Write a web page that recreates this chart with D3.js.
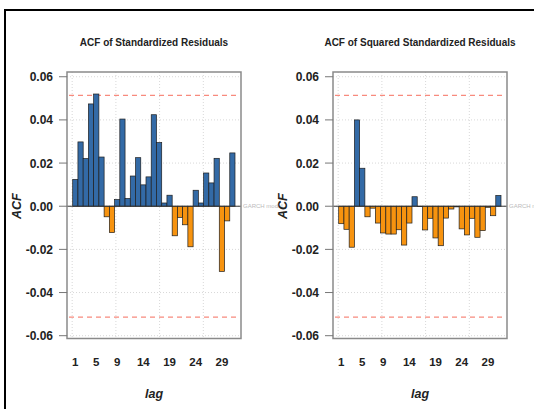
<!DOCTYPE html>
<html lang="en">
  <head>
    <meta charset="utf-8">
    <title>ACF of GARCH residuals</title>
    <script type="text/javascript" src="https://cdn.jsdelivr.net/npm/d3@7/dist/d3.min.js"></script>
    <style>
      body { margin: 0; background: #fff; }
      svg { display: block; font-family: "Liberation Sans", Arial, sans-serif; }
      .panel-title { font-size: 10px; font-weight: bold; fill: #222; }
      .tick-lab { font-size: 12px; font-weight: bold; fill: #222; }
      .x-lab { font-size: 11.5px; font-weight: bold; fill: #222; }
      .axis-title { font-size: 12.5px; font-weight: bold; font-style: italic; fill: #222; }
      .note { font-size: 6px; fill: #bbb; }
    </style>
  </head>
  <body>
    <div id="chart"></div>
    <script type="text/javascript">

      // data
      var lags = d3.range(1, 32);
      var acfResid = [0.0124, 0.0298, 0.0221, 0.0474, 0.0520, 0.0228, -0.0049, -0.0122,
        0.0031, 0.0404, 0.0036, 0.0140, 0.0225, 0.0099, 0.0136, 0.0424, 0.0295, 0.0015,
        0.0051, -0.0137, -0.0052, -0.0086, -0.0188, 0.0074, 0.0015, 0.0154, 0.0108,
        0.0222, -0.0302, -0.0068, 0.0247];
      var acfSqResid = [-0.0081, -0.0107, -0.0190, 0.0400, 0.0176, -0.0049, -0.0009,
        -0.0078, -0.0124, -0.0129, -0.0129, -0.0109, -0.0180, -0.0078, 0.0044, -0.0002,
        -0.0110, -0.0056, -0.0147, -0.0183, -0.0055, -0.0013, -0.0003, -0.0105, -0.0133,
        -0.0056, -0.0144, -0.0113, -0.0005, -0.0044, 0.0050];
      var ciBound = 0.0514;
      var yTicks = [0.06, 0.04, 0.02, 0.00, -0.02, -0.04, -0.06];
      var xTickLags = [1, 5, 9, 14, 19, 24, 29];
      var gridLags = [0.4, 8.75, 17.1, 25.45];
      var titles = ['ACF of Standardized Residuals', 'ACF of Squared Standardized Residuals'];
      var noteText = 'GARCH model';

      var W = 534, H = 409;
      var box = { x0: 67, x1: 241, y0: 72, y1: 338.5 };
      var panelShift = 266;

      var svg = d3.select('#chart')
        .append('svg')
          .attr('width', W)
          .attr('height', H);

      svg.append('rect')
        .attr('width', W)
        .attr('height', H)
        .attr('fill', '#fff');

      var yScale = d3.scaleLinear()
        .domain([-0.0613, 0.0622])
        .range([box.y1, box.y0]);

      var xScale = d3.scaleBand()
        .domain(lags)
        .range([box.x0 + 5.7, box.x1 - 6])
        .padding(0);

      // continuous version of the lag axis, for grid lines
      var xLin = d3.scaleLinear()
        .domain([0.5, 31.5])
        .range(xScale.range());

      function drawPanel(offset, title, values) {
        var g = svg.append('g')
          .attr('transform', 'translate(' + offset + ',0)');

        g.append('text')
          .attr('class', 'panel-title')
          .attr('x', (box.x0 + box.x1) / 2)
          .attr('y', 46)
          .attr('text-anchor', 'middle')
          .text(title);

        // grid
        g.selectAll('.hgrid')
          .data(yTicks)
          .enter()
          .append('line')
            .attr('x1', box.x0)
            .attr('x2', box.x1)
            .attr('y1', function(d) { return yScale(d); })
            .attr('y2', function(d) { return yScale(d); })
            .attr('stroke', '#d8d8d8')
            .attr('stroke-dasharray', '1,2');

        g.selectAll('.vgrid')
          .data(gridLags)
          .enter()
          .append('line')
            .attr('x1', function(d) { return xLin(d); })
            .attr('x2', function(d) { return xLin(d); })
            .attr('y1', box.y0)
            .attr('y2', box.y1)
            .attr('stroke', '#d8d8d8')
            .attr('stroke-dasharray', '1,2');

        // confidence bounds
        g.selectAll('.ci')
          .data([ciBound, -ciBound])
          .enter()
          .append('line')
            .attr('x1', box.x0 + 2)
            .attr('x2', box.x1 - 2)
            .attr('y1', function(d) { return yScale(d); })
            .attr('y2', function(d) { return yScale(d); })
            .attr('stroke', '#f88a7e')
            .attr('stroke-width', 1.2)
            .attr('stroke-dasharray', '5,4');

        // bars
        g.selectAll('.bar')
          .data(values)
          .enter()
          .append('rect')
            .attr('x', function(d, i) { return xScale(lags[i]); })
            .attr('width', xScale.bandwidth())
            .attr('y', function(d) { return yScale(Math.max(0, d)); })
            .attr('height', function(d) { return Math.abs(yScale(d) - yScale(0)); })
            .attr('fill', function(d) { return d >= 0 ? '#336aa6' : '#f7930f'; })
            .attr('stroke', '#1e1e1e')
            .attr('stroke-width', 0.7);

        // zero line
        g.append('line')
          .attr('x1', box.x0)
          .attr('x2', box.x1)
          .attr('y1', yScale(0))
          .attr('y2', yScale(0))
          .attr('stroke', '#333')
          .attr('stroke-width', 1);

        g.append('text')
          .attr('class', 'note')
          .attr('x', box.x1 + 2)
          .attr('y', yScale(0) + 2)
          .text(noteText);

        // plot box
        g.append('rect')
          .attr('x', box.x0)
          .attr('y', box.y0)
          .attr('width', box.x1 - box.x0)
          .attr('height', box.y1 - box.y0)
          .attr('fill', 'none')
          .attr('stroke', '#8a8a8a')
          .attr('stroke-width', 1.5);

        // y axis ticks + labels
        g.selectAll('.ytick')
          .data(yTicks)
          .enter()
          .append('line')
            .attr('x1', box.x0 - 8)
            .attr('x2', box.x0)
            .attr('y1', function(d) { return yScale(d); })
            .attr('y2', function(d) { return yScale(d); })
            .attr('stroke', '#777');

        g.selectAll('.ylab')
          .data(yTicks)
          .enter()
          .append('text')
            .attr('class', 'tick-lab')
            .attr('x', box.x0 - 14)
            .attr('y', function(d) { return yScale(d) + 4.5; })
            .attr('text-anchor', 'end')
            .text(function(d) { return d3.format('.2f')(d).replace('−', '-'); });

        // x labels
        g.selectAll('.xlab')
          .data(xTickLags)
          .enter()
          .append('text')
            .attr('class', 'x-lab')
            .attr('x', function(d) { return xScale(d) + xScale.bandwidth() / 2; })
            .attr('y', 366)
            .attr('text-anchor', 'middle')
            .text(function(d) { return d; });

        g.append('text')
          .attr('class', 'axis-title')
          .attr('x', (box.x0 + box.x1) / 2)
          .attr('y', 398)
          .attr('text-anchor', 'middle')
          .text('lag');

        g.append('text')
          .attr('class', 'axis-title')
          .attr('transform', 'translate(' + 21 + ',' + yScale(0) + ') rotate(-90)')
          .attr('text-anchor', 'middle')
          .text('ACF');
      }

      drawPanel(0, titles[0], acfResid);
      drawPanel(panelShift, titles[1], acfSqResid);

      // outer frame
      svg.append('line')
        .attr('x1', 4).attr('x2', W)
        .attr('y1', 10).attr('y2', 10)
        .attr('stroke', '#000').attr('stroke-width', 2);
      svg.append('line')
        .attr('x1', 5).attr('x2', 5)
        .attr('y1', 9).attr('y2', H)
        .attr('stroke', '#000').attr('stroke-width', 2);

    </script>
  </body>
</html>
